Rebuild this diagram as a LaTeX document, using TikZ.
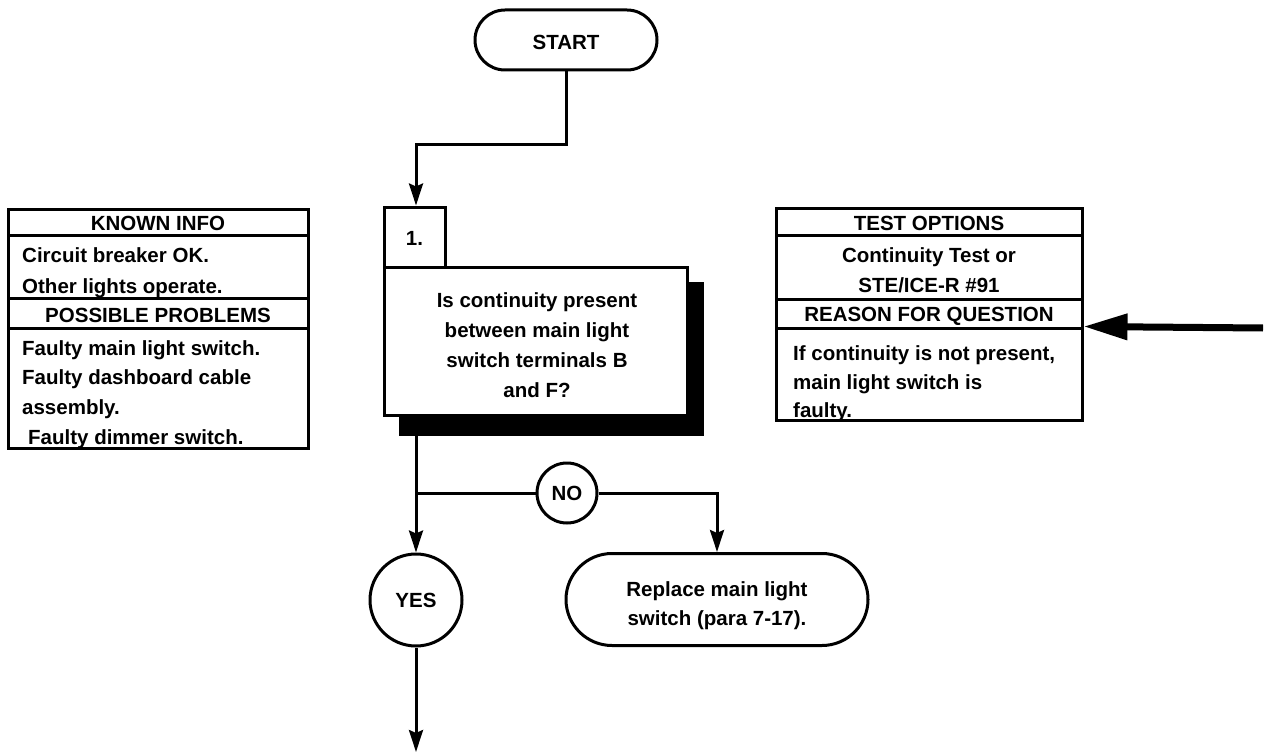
\documentclass[tikz,border=0pt]{standalone}
\usepackage{fontspec}
\setmainfont{Liberation Sans}
\usetikzlibrary{arrows.meta,shapes.misc}
\tikzset{
  txt/.style={font=\bfseries\fontsize{20.5}{30}\selectfont, inner sep=0pt},
  box/.style={draw, line width=3pt, inner sep=0pt, fill=white},
  pill/.style={draw, line width=3pt, rounded rectangle, inner sep=0pt, fill=white},
  circ/.style={draw, line width=3pt, circle, inner sep=0pt, fill=white},
  conn/.style={line width=3pt},
  arr/.style={conn, -{Stealth[length=22pt,width=14pt,inset=3pt]}},
  lefttxt/.style={txt, anchor=base west},
  ctrtxt/.style={txt, anchor=base},
}
\begin{document}
\begin{tikzpicture}[x=1pt,y=-1pt]
\useasboundingbox (0,0) rectangle (1268,754);

% ---- START
\node[pill, minimum width=182pt, minimum height=60pt] (start) at (566,40) {};
\node[ctrtxt] (starttxt) at (566,50) {START};

% ---- left info box
\node[box, minimum width=300pt, minimum height=26pt] (ki) at (158,222) {};
\node[box, minimum width=300pt, minimum height=63pt] (kib) at (158,266.5) {};
\node[box, minimum width=300pt, minimum height=30pt] (pp) at (158,313) {};
\node[box, minimum width=300pt, minimum height=120pt] (ppb) at (158,388) {};
\node[ctrtxt] (kit) at (158,230) {KNOWN INFO};
\node[lefttxt] (k1) at (22,262) {Circuit breaker OK.};
\node[lefttxt] (k2) at (22,293) {Other lights operate.};
\node[ctrtxt] (ppt) at (158,322) {POSSIBLE PROBLEMS};
\node[lefttxt] (p1) at (22,355) {Faulty main light switch.};
\node[lefttxt] (p2) at (22,384) {Faulty dashboard cable};
\node[lefttxt] (p3) at (22,414) {assembly.};
\node[lefttxt] (p4) at (28,444) {Faulty dimmer switch.};

% ---- right info box
\node[box, minimum width=306pt, minimum height=27pt] (to) at (929,221.5) {};
\node[box, minimum width=306pt, minimum height=64pt] (tob) at (929,267) {};
\node[box, minimum width=306pt, minimum height=29pt] (rq) at (929,313.5) {};
\node[box, minimum width=306pt, minimum height=92pt] (rqb) at (929,374) {};
\node[ctrtxt] (tot) at (929,230) {TEST OPTIONS};
\node[ctrtxt] (t1) at (929,262) {Continuity Test or};
\node[ctrtxt] (t2) at (929,292) {STE/ICE-R \#91};
\node[ctrtxt] (rqt) at (929,321) {REASON FOR QUESTION};
\node[lefttxt] (r1) at (793,360) {If continuity is not present,};
\node[lefttxt] (r2) at (793,389) {main light switch is};
\node[lefttxt] (r3) at (793,417) {faulty.};

% ---- big arrow on right
\coordinate (bigstart) at (1263,328);
\draw[line width=7pt, -{Triangle[length=44pt,width=25pt]}] (bigstart) -- (rqb.north east);

% ---- step 1
\node[box, minimum width=61pt, minimum height=60pt] (num) at (414.5,237) {};
\node[ctrtxt] (numt) at (414.5,245) {1.};
\node[draw, fill=black, line width=1pt, minimum width=304pt, minimum height=153pt, inner sep=0pt] (shadow) at (551,358.5) {};
\node[box, minimum width=303pt, minimum height=148pt] (q) at (535.5,341) {};
\node[ctrtxt] (q1) at (537,307) {Is continuity present};
\node[ctrtxt] (q2) at (537,337) {between main light};
\node[ctrtxt] (q3) at (537,367) {switch terminals B};
\node[ctrtxt] (q4) at (537,397) {and F?};

% ---- decisions
\node[circ, minimum size=60pt] (no) at (567,493) {};
\node[ctrtxt] (not) at (567,500) {NO};
\node[circ, minimum size=92pt] (yes) at (416,600) {};
\node[ctrtxt] (yest) at (416,607) {YES};
\node[pill, minimum width=302pt, minimum height=92pt] (rep) at (717,599.5) {};
\node[ctrtxt] (rep1) at (717,596) {Replace main light};
\node[ctrtxt] (rep2) at (717,625) {switch (para 7-17).};

\coordinate (bend) at (416,145);
\coordinate (branch) at (416,493);
\coordinate (endpt) at (416,752);

% ---- connectors
\draw[arr] (start.south) |- (bend) -- (num.north -| bend);
\draw[arr] (shadow.south -| yes.north) -- (yes.north);
\draw[conn] (branch) -- (no.west);
\draw[arr] (no.east) -| (rep.north);
\draw[arr] (yes.south) -- (endpt);
\end{tikzpicture}
\end{document}
